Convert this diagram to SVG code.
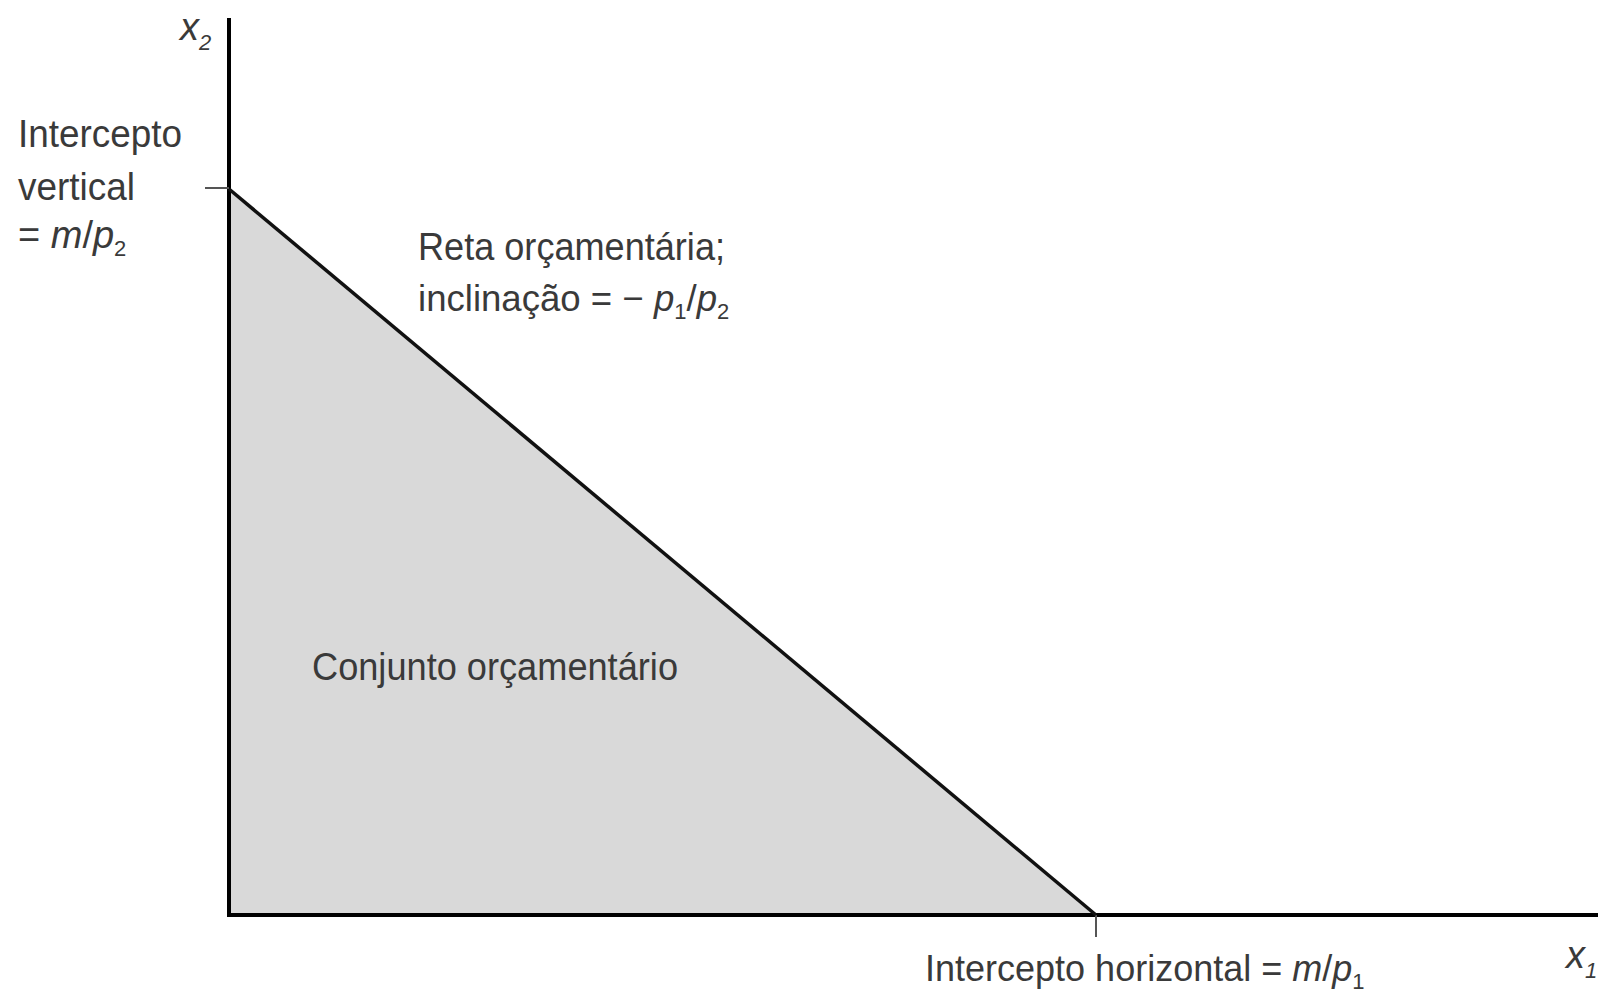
<svg xmlns="http://www.w3.org/2000/svg" width="1601" height="998" viewBox="0 0 1601 998">
<style>
text{font-family:"Liberation Sans",Arial,sans-serif;font-size:38px;fill:#3a3a3a}
.i{font-style:italic}
.sub{font-size:22px}
.ax{stroke:#000;stroke-width:4;fill:none}
.tick{stroke:#555;stroke-width:2;fill:none}
</style>
<rect width="1601" height="998" fill="#fff"/>
<g id="budget-set">
<polygon points="229,189 1096,915 229,915" fill="#d9d9d9"/>
</g>
<g id="connectors">
<line class="ax" x1="229" y1="18" x2="229" y2="917"/>
<line class="ax" x1="227" y1="915" x2="1598" y2="915"/>
<line class="tick" x1="205" y1="188" x2="229" y2="188"/>
<line class="tick" x1="1096" y1="915" x2="1096" y2="937"/>
<line x1="229" y1="189" x2="1096" y2="915" stroke="#111" stroke-width="3.5"/>
</g>
<g id="x2-label"><text x="180" y="40" class="i">x<tspan class="sub" dy="10">2</tspan></text></g>
<g id="vertical-intercept">
<text x="18" y="147" textLength="164" lengthAdjust="spacingAndGlyphs">Intercepto</text>
<text x="18" y="200" textLength="117" lengthAdjust="spacingAndGlyphs">vertical</text>
<text x="18" y="248">= <tspan class="i">m</tspan>/<tspan class="i">p</tspan><tspan class="sub" dy="8">2</tspan></text>
</g>
<g id="budget-line-label">
<text x="418" y="260" textLength="307" lengthAdjust="spacingAndGlyphs">Reta orçamentária;</text>
<text x="418" y="311" style="font-size:36.6px">inclinação = − <tspan class="i">p</tspan><tspan class="sub" dy="8">1</tspan><tspan dy="-8">/</tspan><tspan class="i">p</tspan><tspan class="sub" dy="8">2</tspan></text>
</g>
<g id="budget-set-label"><text x="312" y="680" textLength="366" lengthAdjust="spacingAndGlyphs">Conjunto orçamentário</text></g>
<g id="horizontal-intercept"><text x="925" y="981" style="font-size:36px">Intercepto horizontal = <tspan class="i">m</tspan>/<tspan class="i">p</tspan><tspan class="sub" dy="8">1</tspan></text></g>
<g id="x1-label"><text x="1566" y="968" class="i">x<tspan class="sub" dy="10">1</tspan></text></g>
</svg>
